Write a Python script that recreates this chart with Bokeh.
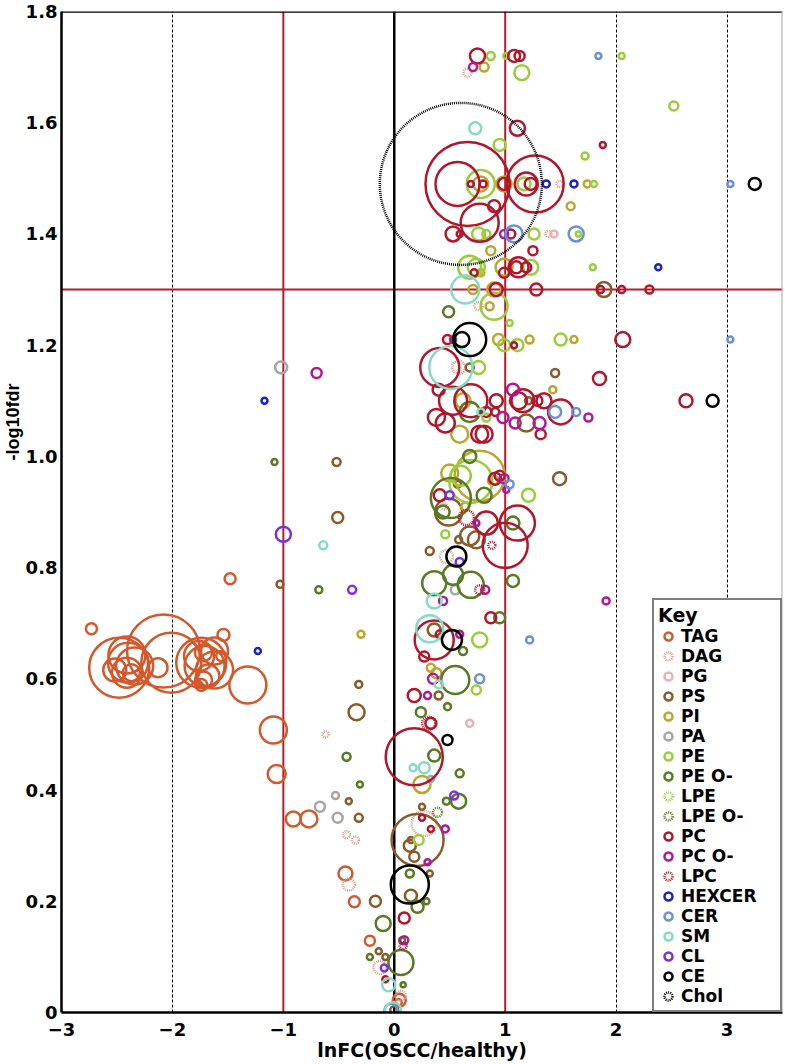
from bokeh.plotting import figure
from bokeh.models import ColumnDataSource, FixedTicker, Span, Legend, LegendItem, Title
from bokeh.embed import file_html
from bokeh.resources import INLINE

# ---- axes / ticks ----
X_TICKS = [-3, -2, -1, 0, 1, 2, 3]
Y_TICKS = [0.0, 0.2, 0.4, 0.6, 0.8, 1.0, 1.2, 1.4, 1.6, 1.8]
Y_TICK_LABELS = ["0", "0.2", "0.4", "0.6", "0.8", "1.0", "1.2", "1.4", "1.6", "1.8"]
X_LABEL = "lnFC(OSCC/healthy)"
Y_LABEL = "-log10fdr"
FC_LINES = [-1, 1]
FDR_LINE = 1.3

CLASSES = ["TAG", "DAG", "PG", "PS", "PI", "PA", "PE", "PE O-", "LPE", "LPE O-",
           "PC", "PC O-", "LPC", "HEXCER", "CER", "SM", "CL", "CE", "Chol"]

# ---- points per class: (lnFC, -log10fdr, marker size) ----
TAG = [(-1.48, 0.78, 11), (-2.73, 0.69, 11), (-2.48, 0.62, 60), (-2.41, 0.643, 37),
       (-2.40, 0.629, 40), (-2.34, 0.623, 37), (-2.41, 0.611, 30), (-2.52, 0.616, 23),
       (-2.37, 0.611, 17), (-2.13, 0.62, 19), (-2.08, 0.65, 73), (-2.01, 0.629, 60),
       (-1.74, 0.629, 50), (-1.71, 0.623, 40), (-1.76, 0.641, 30), (-1.62, 0.65, 27),
       (-1.54, 0.679, 12), (-1.68, 0.605, 23), (-1.72, 0.598, 17), (-1.74, 0.589, 12),
       (-1.62, 0.616, 37), (-1.56, 0.641, 10), (-1.72, 0.647, 17), (-1.32, 0.589, 37),
       (-1.09, 0.508, 27), (-1.06, 0.429, 18), (-0.91, 0.348, 15), (-0.77, 0.348, 17),
       (-0.44, 0.25, 14), (-0.36, 0.199, 11), (-0.22, 0.129, 10), (0.045, 0.022, 13),
       (0.036, 0.018, 7)]
DAG = [(0.66, 1.69, 8), (1.49, 1.49, 6), (1.39, 1.40, 6), (0.76, 1.27, 8), (0.58, 1.16, 13),
       (0.47, 0.82, 13), (0.45, 0.91, 6), (-0.62, 0.50, 6), (-0.43, 0.32, 7), (-0.35, 0.31, 7),
       (0.27, 0.34, 25), (-0.41, 0.23, 12), (-0.13, 0.081, 13), (0.06, 0.03, 10)]
PG = [(1.44, 1.40, 7), (0.68, 0.52, 7)]
PS = [(1.89, 1.30, 15), (0.68, 1.16, 8), (1.45, 1.15, 8), (1.21, 1.10, 7), (1.19, 1.06, 17),
      (1.49, 0.96, 13), (0.57, 0.95, 7), (0.49, 0.90, 27), (0.68, 0.857, 19), (0.74, 0.85, 17),
      (0.58, 0.85, 7), (0.32, 0.83, 8), (-1.03, 0.77, 7), (0.36, 0.688, 13), (0.40, 0.57, 8),
      (-0.32, 0.59, 7), (-0.34, 0.54, 16), (-0.52, 0.99, 8), (-0.51, 0.89, 11), (-0.41, 0.38, 6),
      (-0.32, 0.35, 8), (0.25, 0.37, 6), (0.21, 0.31, 52), (0.14, 0.30, 12), (0.18, 0.28, 10),
      (0.15, 0.31, 6), (0.32, 0.25, 6), (0.15, 0.21, 12), (-0.17, 0.20, 11), (-0.14, 0.11, 6),
      (-0.08, 0.10, 6), (0.0, 0.004, 8)]
PI = [(0.81, 1.70, 9), (0.78, 1.49, 15), (0.99, 1.49, 15), (1.74, 1.49, 7), (1.59, 1.45, 8),
      (0.87, 1.37, 9), (0.78, 1.33, 7), (0.99, 1.34, 17), (0.71, 1.30, 9), (0.90, 1.30, 14),
      (0.86, 1.27, 8), (0.94, 1.21, 11), (1.22, 1.21, 8), (1.62, 1.21, 7), (1.43, 1.12, 7),
      (0.62, 1.10, 15), (0.59, 1.04, 17), (0.77, 0.965, 50), (0.50, 0.97, 17), (0.89, 0.957, 10),
      (0.64, 0.91, 8), (-0.30, 0.68, 7), (0.33, 0.62, 8), (0.38, 0.61, 10), (0.25, 0.41, 17)]
PA = [(-1.02, 1.16, 12), (0.55, 0.76, 9), (-0.53, 0.39, 7), (-0.67, 0.37, 10), (-0.51, 0.35, 10),
      (0.33, 0.42, 6)]
PE = [(0.87, 1.72, 8), (1.01, 1.72, 6), (2.05, 1.72, 6), (1.15, 1.69, 15), (2.52, 1.63, 9),
      (0.95, 1.56, 12), (1.72, 1.54, 7), (0.78, 1.49, 28), (1.17, 1.49, 13), (1.80, 1.49, 6),
      (0.76, 1.40, 13), (0.83, 1.40, 8), (1.26, 1.40, 11), (1.66, 1.40, 5), (1.79, 1.34, 6),
      (0.68, 1.34, 23), (0.74, 1.34, 17), (1.23, 1.34, 15), (0.90, 1.27, 27), (1.04, 1.24, 6),
      (0.99, 1.20, 12), (1.11, 1.20, 12), (1.50, 1.21, 12), (0.76, 1.16, 13), (0.83, 1.07, 8),
      (0.69, 0.955, 43), (0.60, 0.965, 20), (1.21, 0.93, 13), (0.46, 0.86, 8), (0.77, 0.67, 15),
      (0.74, 0.58, 9), (0.22, 0.31, 10)]
PE_O = [(0.49, 1.26, 11), (0.68, 1.08, 20), (0.68, 1.00, 13), (0.51, 0.925, 40), (0.81, 0.93, 15),
        (0.44, 0.90, 13), (1.07, 0.88, 13), (0.53, 0.787, 20), (0.36, 0.772, 24), (0.69, 0.769, 26),
        (1.07, 0.776, 12), (0.95, 0.71, 11), (0.62, 0.65, 8), (0.55, 0.598, 28), (0.48, 0.55, 7),
        (0.24, 0.54, 10), (0.36, 0.462, 12), (0.59, 0.43, 8), (0.58, 0.38, 15), (0.47, 0.38, 7),
        (-0.31, 0.41, 6), (-0.43, 0.46, 8), (-0.68, 0.76, 7), (-1.08, 0.99, 6), (0.14, 0.25, 8),
        (0.21, 0.19, 12), (0.29, 0.20, 6), (-0.10, 0.16, 15), (0.07, 0.13, 6), (0.06, 0.09, 25),
        (-0.22, 0.10, 6), (0.08, 0.05, 5)]
LPE = []
LPE_O = [(0.39, 0.36, 9)]
PC = [(0.75, 1.72, 15), (1.08, 1.72, 12), (1.13, 1.72, 10), (1.11, 1.59, 15), (1.88, 1.56, 6),
      (0.66, 1.49, 84), (0.57, 1.49, 44), (0.80, 1.49, 7), (0.69, 1.49, 6), (0.99, 1.49, 12),
      (1.23, 1.49, 12), (1.19, 1.49, 23), (1.27, 1.49, 57), (0.90, 1.45, 12), (0.77, 1.42, 38),
      (0.53, 1.40, 15), (0.59, 1.40, 6), (1.05, 1.40, 9), (1.25, 1.37, 9), (0.72, 1.33, 7),
      (0.99, 1.33, 10), (1.12, 1.34, 20), (1.10, 1.34, 12), (1.19, 1.34, 10), (0.92, 1.30, 13),
      (1.28, 1.30, 12), (1.86, 1.30, 7), (2.05, 1.30, 7), (2.30, 1.30, 8), (0.48, 1.21, 9),
      (1.08, 1.20, 6), (2.06, 1.21, 15), (0.41, 1.16, 39), (1.85, 1.14, 13), (0.40, 1.12, 12),
      (0.53, 1.10, 28), (0.69, 1.10, 33), (0.92, 1.10, 13), (1.16, 1.10, 23), (1.12, 1.10, 17),
      (1.29, 1.10, 10), (1.35, 1.10, 15), (1.50, 1.08, 25), (0.83, 1.08, 10), (0.91, 1.08, 8),
      (0.38, 1.07, 17), (0.46, 1.06, 19), (1.32, 1.04, 10), (0.77, 1.04, 17), (0.81, 1.04, 17),
      (2.63, 1.10, 13), (0.91, 0.96, 12), (0.95, 0.965, 10), (0.41, 0.93, 12), (0.83, 0.88, 23),
      (1.11, 0.88, 35), (1.0, 0.84, 45), (0.36, 0.67, 39), (0.41, 0.68, 8), (0.27, 0.64, 10),
      (0.87, 0.71, 11), (0.18, 0.57, 13), (0.33, 0.52, 11), (0.18, 0.46, 57), (0.25, 0.35, 6),
      (0.33, 0.33, 6), (0.09, 0.17, 11), (-0.08, 0.06, 6)]
PC_O = [(0.71, 1.70, 8), (0.99, 1.40, 8), (0.53, 1.21, 6), (1.07, 1.12, 12), (1.75, 1.07, 8),
        (0.98, 1.07, 11), (1.09, 1.06, 11), (1.31, 1.06, 12), (0.99, 0.96, 9), (1.01, 0.94, 6),
        (0.74, 0.88, 6), (0.44, 0.74, 8), (0.82, 0.76, 8), (0.59, 0.68, 7), (0.35, 0.60, 10),
        (0.30, 0.57, 7), (0.46, 0.33, 7), (0.30, 0.27, 6), (0.09, 0.13, 8), (-0.70, 1.15, 10),
        (1.91, 0.74, 7), (2.43, 0.68, 7)]
LPC = [(0.65, 0.89, 15), (0.88, 0.84, 7), (0.77, 0.76, 9), (0.31, 0.52, 13), (0.08, 0.12, 7)]
HEXCER = [(1.37, 1.49, 7), (1.62, 1.49, 7), (2.38, 1.34, 6), (-1.17, 1.10, 6), (-1.23, 0.65, 6)]
CER = [(1.84, 1.72, 6), (1.08, 1.40, 17), (1.64, 1.40, 15), (3.03, 1.49, 6), (3.03, 1.21, 6),
       (1.45, 1.08, 12), (1.64, 1.08, 8), (1.04, 0.95, 8), (1.22, 0.67, 7), (0.77, 0.60, 9),
       (-0.03, 0.004, 13)]
SM = [(0.73, 1.59, 12), (0.64, 1.30, 28), (0.51, 1.16, 43), (0.78, 1.08, 7), (0.36, 0.74, 15),
      (0.32, 0.69, 27), (0.40, 0.59, 8), (0.27, 0.44, 11), (0.17, 0.44, 7), (-0.64, 0.84, 8),
      (-0.05, 0.05, 13), (-0.01, 0.004, 16)]
CL = [(0.50, 0.93, 8), (0.59, 0.81, 8), (-0.38, 0.76, 8), (0.54, 0.39, 8), (-0.09, 0.08, 7),
      (-1.0, 0.86, 15)]
CE = [(3.25, 1.49, 12), (2.87, 1.10, 12), (0.68, 1.21, 33), (0.61, 1.21, 15), (0.56, 0.82, 20),
      (0.52, 0.67, 20), (0.48, 0.49, 10), (0.14, 0.23, 38)]
CHOL = [(0.60, 1.49, 162)]

POINTS = {"TAG": TAG, "DAG": DAG, "PG": PG, "PS": PS, "PI": PI, "PA": PA, "PE": PE,
          "PE O-": PE_O, "LPE": LPE, "LPE O-": LPE_O, "PC": PC, "PC O-": PC_O, "LPC": LPC,
          "HEXCER": HEXCER, "CER": CER, "SM": SM, "CL": CL, "CE": CE, "Chol": CHOL}

COLORS = {"TAG": "#d4582b", "DAG": "#d9a08e", "PG": "#eab2b4", "PS": "#8b5a2b", "PI": "#bba72c",
          "PA": "#a6a6a6", "PE": "#9acd3c", "PE O-": "#577a22", "LPE": "#9acd3c",
          "LPE O-": "#577a22", "PC": "#b3162b", "PC O-": "#b2179a", "LPC": "#b3162b",
          "HEXCER": "#1b22c8", "CER": "#6b90d8", "SM": "#84dcc6", "CL": "#7c2fe2",
          "CE": "#000000", "Chol": "#000000"}
DOTTED = {"DAG", "LPE", "LPE O-", "LPC", "Chol"}

BOLD_FONT = "DejaVu Sans"

p = figure(width=785, height=1063, x_range=(-3, 3.5), y_range=(0, 1.8),
           output_backend="svg", toolbar_location=None,
           min_border_left=59, min_border_right=3, min_border_top=11, min_border_bottom=0)
p.outline_line_color = None
p.background_fill_color = "white"

for ax in (p.xaxis[0], p.yaxis[0]):
    ax.major_tick_in = 0
    ax.major_tick_out = 0
    ax.minor_tick_line_color = None
    ax.axis_line_width = 2.5
    ax.axis_line_color = "black"
    ax.major_label_text_font = BOLD_FONT
    ax.major_label_text_font_style = "bold"
    ax.major_label_text_font_size = "18px"
    ax.major_label_text_color = "black"

p.xaxis.ticker = FixedTicker(ticks=X_TICKS)
p.xaxis.major_label_standoff = 10
p.xaxis.axis_label = X_LABEL
p.xaxis.axis_label_text_font = BOLD_FONT
p.xaxis.axis_label_text_font_style = "bold"
p.xaxis.axis_label_text_font_size = "19px"
p.xaxis.axis_label_standoff = 0
p.xaxis.axis_label_text_color = "black"

p.yaxis.ticker = FixedTicker(ticks=Y_TICKS)
p.yaxis.major_label_overrides = {t: s for t, s in zip(Y_TICKS, Y_TICK_LABELS)}
p.yaxis.major_label_standoff = 4

p.ygrid.visible = False
p.xgrid.ticker = FixedTicker(ticks=[-2, 2, 3])
p.xgrid.grid_line_color = "black"
p.xgrid.grid_line_width = 1
p.xgrid.grid_line_dash = "3 2"

# reference lines and frame edges
for xv in FC_LINES:
    p.add_layout(Span(location=xv, dimension="height", line_color="#b31d2c", line_width=2, level="underlay"))
p.add_layout(Span(location=FDR_LINE, dimension="width", line_color="#b31d2c", line_width=2, level="underlay"))
p.add_layout(Span(location=0, dimension="height", line_color="black", line_width=2.5, level="underlay"))
p.add_layout(Span(location=1.8, dimension="width", line_color="black", line_width=2.5))
p.add_layout(Span(location=3.5, dimension="height", line_color="#aaaaaa", line_width=2))

items = []
for cls in CLASSES:
    pts = POINTS[cls]
    if pts:
        xs = [a for a, b, c in pts]
        ys = [b for a, b, c in pts]
        ss = [c for a, b, c in pts]
    else:  # class with no plotted lipid: keep a legend entry only
        xs, ys, ss = [float("nan")], [float("nan")], [8]
    src = ColumnDataSource(dict(x=xs, y=ys, s=ss))
    r = p.scatter("x", "y", size="s", source=src, marker="circle", fill_color=None,
                  line_color=COLORS[cls], line_width=2.5,
                  line_dash="1 1" if cls in DOTTED else "solid")
    items.append(LegendItem(label=cls, renderers=[r]))

legend = Legend(items=items, location="bottom_right", margin=0, padding=4, spacing=0,
                label_height=20, glyph_height=20, glyph_width=20, label_standoff=3,
                label_width=95,
                label_text_font=BOLD_FONT, label_text_font_style="bold", label_text_font_size="17px",
                label_text_color="black",
                title="Key", title_text_font=BOLD_FONT, title_text_font_style="bold",
                title_text_font_size="19px", title_standoff=0, title_text_color="black",
                border_line_color="black", border_line_width=2.5,
                background_fill_color="white", background_fill_alpha=1.0)
p.add_layout(legend)

# y-axis title, placed off-centre (upper half) as in the original figure
ytitle = Title(text=Y_LABEL, align="right", offset=372, standoff=0,
               text_font="Liberation Sans", text_font_style="bold", text_font_size="18px",
               text_color="black")
p.add_layout(ytitle, "left")

open("out.html", "w").write(file_html(p, INLINE))
